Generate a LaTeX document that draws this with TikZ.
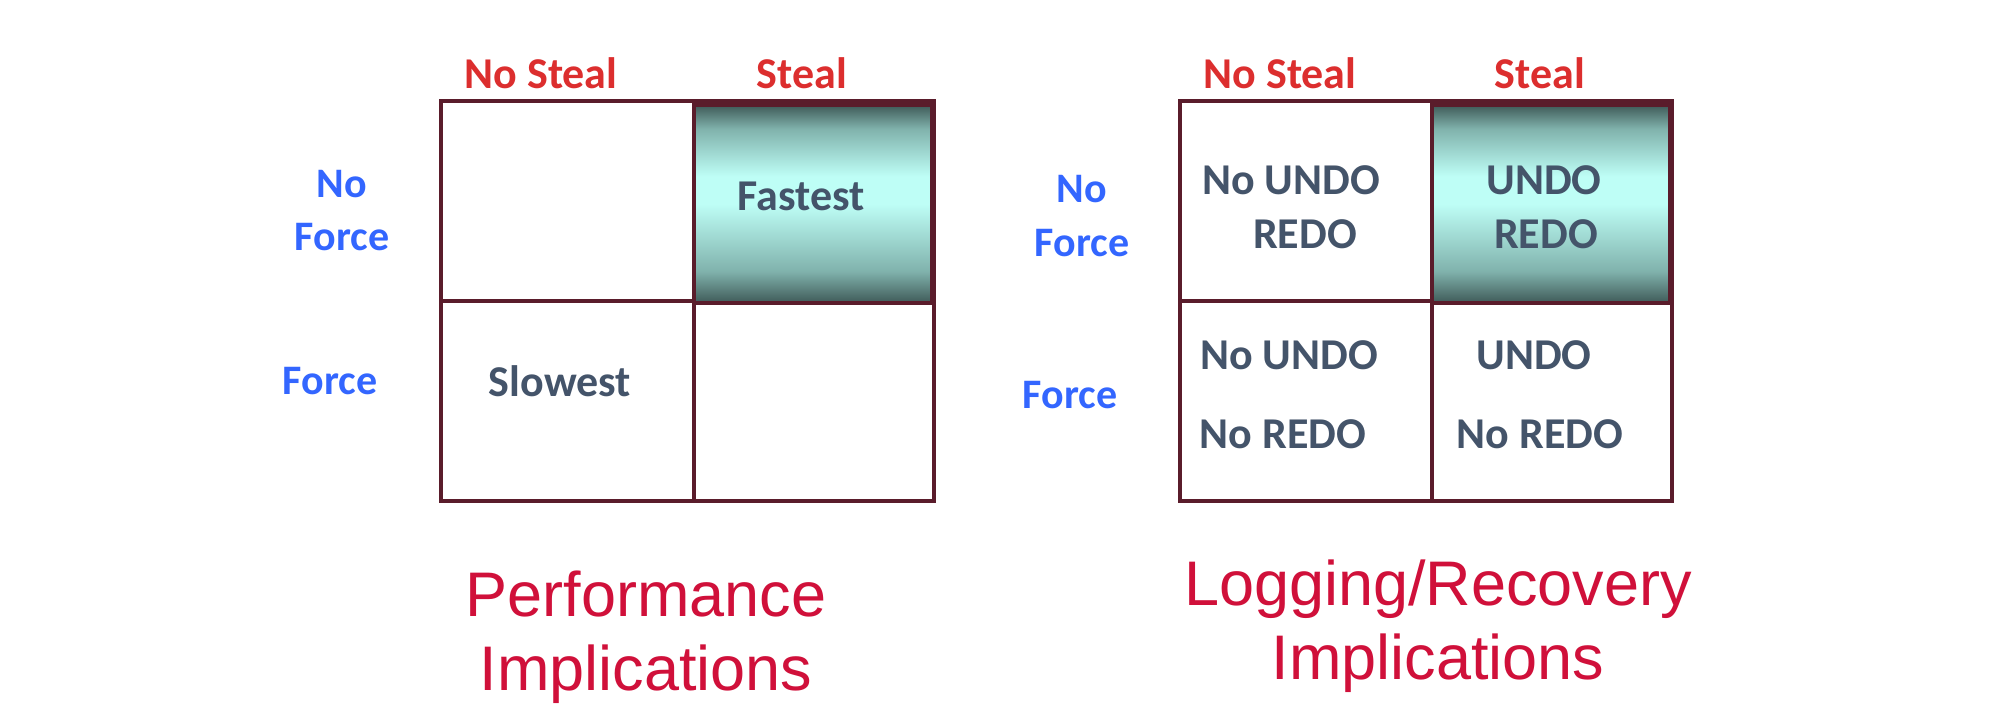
\documentclass[tikz,border=0pt]{standalone}
\usepackage{fontspec}
\setmainfont{Carlito}
\newfontfamily\helv{Liberation Sans}
\definecolor{hdrred}{HTML}{DC2E2E}
\definecolor{rowblue}{HTML}{3366FF}
\definecolor{celltxt}{HTML}{44546A}
\definecolor{captred}{HTML}{D0103A}
\definecolor{gridline}{HTML}{5A1C2B}
\definecolor{gdark}{HTML}{3F5A58}
\definecolor{gmid}{HTML}{80B2AC}
\definecolor{glight}{HTML}{BEFEF6}
\pgfdeclareverticalshading{cellgrad}{100bp}{color(0bp)=(gdark); color(25bp)=(gdark); color(33bp)=(gmid); color(50bp)=(glight); color(57bp)=(glight); color(69bp)=(gmid); color(75bp)=(gdark); color(100bp)=(gdark)}
\tikzset{
  hdr/.style={font=\fontsize{22}{26}\selectfont\bfseries, text=hdrred, anchor=base, inner sep=0pt},
  rowlab/.style={font=\fontsize{21}{25}\selectfont\bfseries, text=rowblue, anchor=base, inner sep=0pt},
  celltext/.style={font=\fontsize{22}{26}\selectfont\bfseries, text=celltxt, anchor=base, inner sep=0pt},
  capt/.style={font=\helv\fontsize{31.5}{37}\selectfont, text=captred, anchor=base, inner sep=0pt},
  gridpen/.style={draw=gridline, line width=1.7pt},
  hot/.style={shading=cellgrad, draw=gridline, line width=1.8pt}
}
\begin{document}
\begin{tikzpicture}[x=0.5pt,y=-0.5pt]
\useasboundingbox (0,0) rectangle (2000,720);
\fill[white] (0,0) rectangle (2000,720);

% ---------- left grid ----------
\draw[gridpen] (441,101) rectangle (934,501);
\draw[gridpen] (694,101) -- (694,501);
\draw[gridpen] (441,301) -- (934,301);
\path[hot] (694,105) rectangle (932,303);

\node[hdr] (lns) at (541,88) {No Steal};
\node[hdr] (ls) at (802,88) {Steal};
\node[rowlab] (lno) at (342,197) {No};
\node[rowlab] (lnf) at (342,250) {Force};
\node[rowlab] (lf) at (330,394) {Force};
\node[celltext] (fast) at (801,210) {Fastest};
\node[celltext] (slow) at (560,396) {Slowest};
\node[capt] (perf) at (646,616) {Performance};
\node[capt] (impl1) at (646,690) {Implications};

% ---------- right grid ----------
\draw[gridpen] (1180,101) rectangle (1672,501);
\draw[gridpen] (1432,101) -- (1432,501);
\draw[gridpen] (1180,301) -- (1672,301);
\path[hot] (1432,105) rectangle (1670,303);

\node[hdr] (rns) at (1280,88) {No Steal};
\node[hdr] (rs) at (1540,88) {Steal};
\node[rowlab] (rno) at (1082,202) {No};
\node[rowlab] (rnf) at (1082,256) {Force};
\node[rowlab] (rf) at (1070,408) {Force};
\node[celltext] (a1) at (1291,194) {No UNDO};
\node[celltext] (a2) at (1305,248) {REDO};
\node[celltext] (b1) at (1544,194) {UNDO};
\node[celltext] (b2) at (1546,248) {REDO};
\node[celltext] (c1) at (1289,369) {No UNDO};
\node[celltext] (c2) at (1283,448) {No REDO};
\node[celltext] (d1) at (1534,369) {UNDO};
\node[celltext] (d2) at (1540,448) {No REDO};
\node[capt] (logr) at (1438,605) {Logging/Recovery};
\node[capt] (impl2) at (1438,679) {Implications};
\end{tikzpicture}
\end{document}
